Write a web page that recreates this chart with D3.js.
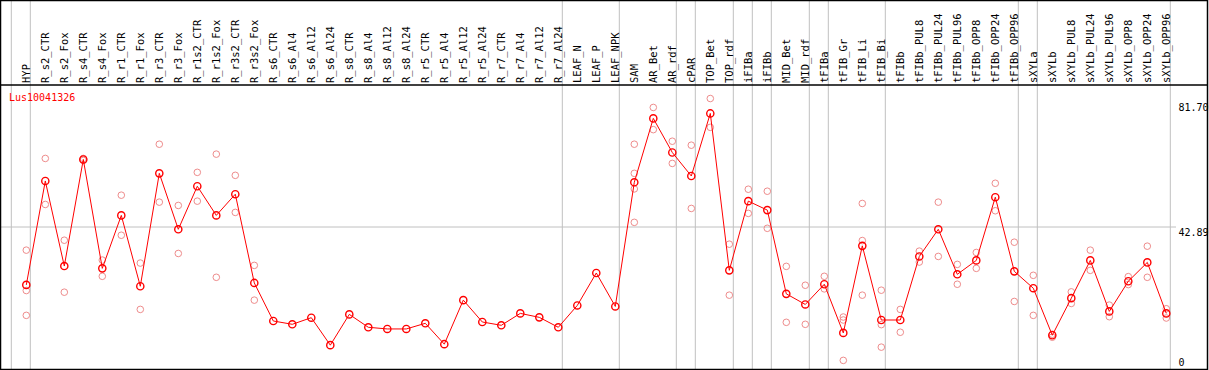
<!DOCTYPE html>
<html>
<head>
    <title>Lus10041326</title>
    <script src="https://d3js.org/d3.v7.min.js"></script>
    <style>
        body { margin: 0; background: #fff; }
        text { font-family: "DejaVu Sans Mono", monospace; }
    </style>
</head>
<body>
<div class="chart"></div>
<script>
    const geneName = "Lus10041326";

    const samples = ["HYP", "R_s2_CTR", "R_s2_Fox", "R_s4_CTR", "R_s4_Fox", "R_r1_CTR", "R_r1_Fox",
        "R_r3_CTR", "R_r3_Fox", "R_r1s2_CTR", "R_r1s2_Fox", "R_r3s2_CTR", "R_r3s2_Fox",
        "R_s6_CTR", "R_s6_Al4", "R_s6_Al12", "R_s6_Al24", "R_s8_CTR", "R_s8_Al4", "R_s8_Al12", "R_s8_Al24",
        "R_r5_CTR", "R_r5_Al4", "R_r5_Al12", "R_r5_Al24", "R_r7_CTR", "R_r7_Al4", "R_r7_Al12", "R_r7_Al24",
        "LEAF_N", "LEAF_P", "LEAF_NPK", "SAM", "AR_Bet", "AR_rdf", "cPAR", "TOP_Bet", "TOP_rdf",
        "iFIBa", "iFIBb", "MID_Bet", "MID_rdf", "tFIBa", "tFIB_Gr", "tFIB_Li", "tFIB_Bi", "tFIBb",
        "tFIBb_PUL8", "tFIBb_PUL24", "tFIBb_PUL96", "tFIBb_OPP8", "tFIBb_OPP24", "tFIBb_OPP96",
        "sXYLa", "sXYLb", "sXYLb_PUL8", "sXYLb_PUL24", "sXYLb_PUL96", "sXYLb_OPP8", "sXYLb_OPP24", "sXYLb_OPP96"];

    // mean expression per sample (red line)
    const means = [25.4, 56.8, 31.1, 63.3, 30.4, 46.4, 25.0, 59.1, 42.2, 55.2, 46.4, 52.8, 26.0,
        14.5, 13.5, 15.5, 7.2, 16.5, 12.6, 12.1, 12.1,
        13.8, 7.5, 20.8, 14.2, 13.2, 16.8, 15.6, 12.6,
        19.2, 29.0, 18.9, 56.4, 75.7, 65.4, 58.3, 77.2, 29.8,
        50.7, 48.0, 22.7, 19.5, 25.6, 10.9, 37.2, 14.8, 14.8,
        34.0, 42.2, 28.6, 32.8, 51.9, 29.5,
        24.4, 10.2, 21.4, 32.8, 17.4, 26.5, 32.2, 16.8];

    // individual replicates (pale circles)
    const replicates = [
        [35.9, 23.7, 16.2], [63.6, 49.7], [38.9, 23.2], [63.6, 63.0], [32.9, 28.0], [52.5, 40.4], [32.0, 18.0],
        [67.9, 50.4], [49.4, 34.9], [59.4, 50.7], [64.9, 27.7], [58.5, 47.3], [31.3, 20.8],
        [], [], [], [], [], [], [], [],
        [], [], [], [], [], [], [], [],
        [], [], [], [67.9, 59.1, 54.4, 44.3], [79.0, 72.3], [68.8, 62.1], [67.6, 48.5], [81.7, 73.0], [37.7, 22.3],
        [54.3, 47.0], [53.7, 42.5], [31.0, 14.1], [25.3, 13.5], [28.0, 24.2], [15.7, 14.8, 2.6], [50.0, 38.8, 22.3], [23.8, 13.4, 6.6], [18.0, 11.1],
        [35.6, 32.3], [50.4, 34.0], [31.6, 25.6], [35.2, 30.4], [56.1, 47.8], [38.3, 20.4],
        [28.3, 16.2], [9.6, 10.5], [23.3, 19.8], [35.9, 29.8], [19.3, 15.8], [27.9, 25.5], [37.1, 27.7], [18.2, 15.4]];

    // group separators drawn after these samples
    const groupEnds = ["HYP", "R_r7_Al24", "LEAF_NPK", "AR_rdf", "cPAR", "TOP_rdf", "iFIBa", "iFIBb",
        "MID_rdf", "tFIBa", "tFIB_Bi", "tFIBb_OPP96", "sXYLa", "sXYLb_OPP96"];

    const W = 1209, H = 370;
    const headerY = 85, bottomY = 369;
    const svg = d3.select(".chart").append("svg").attr("width", W).attr("height", H);

    const x = d3.scalePoint().domain(samples).range([26.3, 1166.3]);
    const step = x.step();

    const maxVal = d3.max(replicates.flat().concat(means));
    const y = d3.scaleLinear().domain([0, maxVal * 1.05]).range([bottomY, headerY]);

    // gray separators
    const sepX = [x(samples[0]) - step + 4].concat(groupEnds.map(d => x(d) + 4));
    svg.selectAll(".sep").data(sepX).enter().append("line")
        .attr("x1", d => d).attr("x2", d => d)
        .attr("y1", 0).attr("y2", bottomY)
        .attr("stroke", "#c0c0c0").attr("stroke-width", 1);

    // middle gridline
    const midVal = maxVal * 1.05 / 2;
    svg.append("line")
        .attr("x1", 0).attr("x2", 1176)
        .attr("y1", y(midVal)).attr("y2", y(midVal))
        .attr("stroke", "#c0c0c0").attr("stroke-width", 1);

    // frame
    svg.append("rect").attr("x", 0.5).attr("y", 0.5).attr("width", W - 2).attr("height", bottomY)
        .attr("fill", "none").attr("stroke", "#000").attr("stroke-width", 1.5);
    svg.append("line").attr("x1", 0).attr("x2", W - 1).attr("y1", headerY).attr("y2", headerY)
        .attr("stroke", "#000").attr("stroke-width", 1.5);

    // column labels
    svg.selectAll(".lab").data(samples).enter().append("text")
        .attr("transform", d => "translate(" + (x(d) + 3.5) + "," + (headerY - 2) + ") rotate(-90)")
        .attr("font-size", "10.5px")
        .attr("fill", "#000")
        .text(d => d);

    // axis values
    const axisVals = [
        {v: maxVal, label: maxVal.toFixed(2), dy: 12.5},
        {v: midVal, label: midVal.toFixed(2), dy: 9},
        {v: 0, label: "0", dy: -3.5}
    ];
    svg.selectAll(".ax").data(axisVals).enter().append("text")
        .attr("x", 1178.5)
        .attr("y", d => y(d.v) + d.dy)
        .attr("font-size", "10px")
        .attr("fill", "#000")
        .text(d => d.label);

    // title
    svg.append("text").attr("x", 9).attr("y", 101)
        .attr("font-size", "10px").attr("fill", "#ff0000")
        .text(geneName);

    // replicate circles
    const reps = [];
    replicates.forEach((arr, i) => arr.forEach(v => reps.push({s: samples[i], v: v})));
    svg.selectAll(".rep").data(reps).enter().append("circle")
        .attr("cx", d => x(d.s)).attr("cy", d => y(d.v)).attr("r", 3.3)
        .attr("fill", "none").attr("stroke", "#ee8c8c").attr("stroke-width", 1);

    // mean line
    const line = d3.line().x((d, i) => x(samples[i])).y(d => y(d));
    svg.append("path").datum(means)
        .attr("fill", "none").attr("stroke", "#ff0000").attr("stroke-width", 1)
        .attr("d", line);

    svg.selectAll(".mean").data(means).enter().append("circle")
        .attr("cx", (d, i) => x(samples[i])).attr("cy", d => y(d)).attr("r", 3.6)
        .attr("fill", "none").attr("stroke", "#ff0000").attr("stroke-width", 1.4);
</script>
</body>
</html>
